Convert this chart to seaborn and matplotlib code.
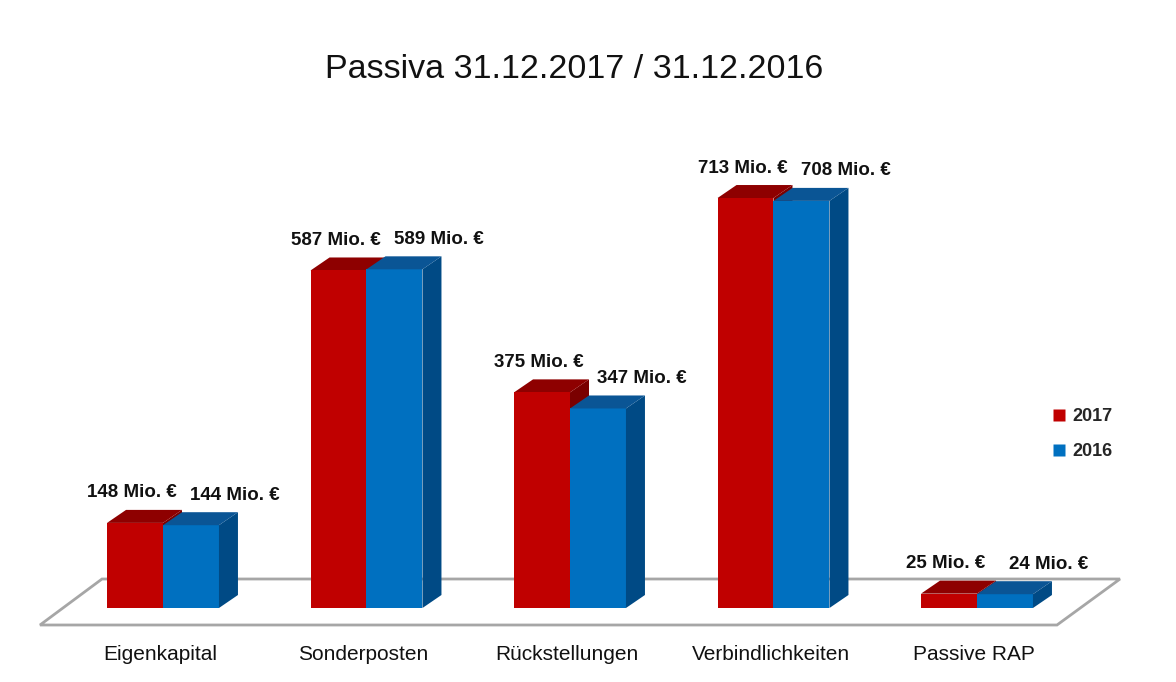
import matplotlib
matplotlib.use("Agg")
import matplotlib.pyplot as plt
from matplotlib.patches import Polygon
from matplotlib.lines import Line2D
from matplotlib import font_manager
import seaborn as sns
import pandas as pd

categories = ["Eigenkapital", "Sonderposten", "Rückstellungen", "Verbindlichkeiten", "Passive RAP"]
values_2017 = [148, 587, 375, 713, 25]
values_2016 = [144, 589, 347, 708, 24]
series = ["2017", "2016"]
title = "Passiva 31.12.2017 / 31.12.2016"

colors = {"2017": "#C00000", "2016": "#0070C0"}
top_colors = {"2017": "#8E0000", "2016": "#0A5595"}
side_colors = {"2017": "#7A0000", "2016": "#004A85"}

names = {f.name for f in font_manager.fontManager.ttflist}
narrow = "Liberation Sans Narrow" if "Liberation Sans Narrow" in names else "Liberation Sans"

sns.set_theme(style="white")
plt.rcParams["font.family"] = ["Liberation Sans", "DejaVu Sans"]

df = pd.DataFrame({
    "Kategorie": categories * 2,
    "Jahr": ["2017"] * len(categories) + ["2016"] * len(categories),
    "Wert": values_2017 + values_2016,
})

W, H = 1176, 682
fig = plt.figure(figsize=(W / 100, H / 100), dpi=100)
ax = fig.add_axes([0, 0, 1, 1])

sns.barplot(data=df, x="Kategorie", y="Wert", hue="Jahr", hue_order=series,
            palette=colors, width=0.55, gap=0, saturation=1, ax=ax,
            legend=False, edgecolor="none", linewidth=0)

# axis geometry: pixel mapping
x0_px, step_px = 163, 203.5
base_px, scale = 608, 0.575
ax.set_xlim(-x0_px / step_px, (W - x0_px) / step_px)
ax.set_ylim(-(H - base_px) / scale, base_px / scale)
ax.axis("off")

def px_x(p):
    return (p - x0_px) / step_px

def px_y(p):
    return (base_px - p) / scale

dx = 19 / step_px
dy = 13 / scale

# floor
floor = Polygon([(px_x(40), px_y(625)), (px_x(1057), px_y(625)),
                 (px_x(1120), px_y(579)), (px_x(102), px_y(579))],
                closed=True, facecolor="white", edgecolor="#A6A6A6", linewidth=2, zorder=1)
ax.add_patch(floor)

n = len(categories)
patches = ax.patches[:]
bars = [p for p in patches if p is not floor]
for k, s in enumerate(series):
    for i in range(n):
        b = bars[k * n + i]
        x0 = b.get_x(); x1 = x0 + b.get_width(); h = b.get_height()
        zf = 2.2 if s == "2017" else 3.0
        b.set_zorder(zf)
        top = Polygon([(x0, h), (x1, h), (x1 + dx, h + dy), (x0 + dx, h + dy)],
                      closed=True, facecolor=top_colors[s], edgecolor="none", zorder=zf - 0.1 if s == "2017" else zf + 0.1)
        side = Polygon([(x1, 0), (x1, h), (x1 + dx, h + dy), (x1 + dx, dy)],
                       closed=True, facecolor=side_colors[s], edgecolor="none", zorder=zf - 0.2 if s == "2017" else zf + 0.1)
        ax.add_patch(side)
        ax.add_patch(top)
        if s == "2017":
            lx = (x0 + x1) / 2 - 3 / step_px
        else:
            lx = (x0 + x1) / 2 + 44 / step_px
        ax.text(lx, h + 30 / scale, f"{int(h)} Mio. €", ha="center", va="center",
                fontsize=13.5, fontweight="bold", family=[narrow, "DejaVu Sans"],
                color="#111111", zorder=5)

# category labels
for i, c in enumerate(categories):
    ax.text(i - 3 / step_px, px_y(655), c, ha="center", va="center", fontsize=15, color="#111111")

ax.text(px_x(574), px_y(70), title, ha="center", va="center", fontsize=24.5, color="#111111")

handles = [Line2D([], [], marker="s", linestyle="none", markersize=8,
                  markerfacecolor=colors[s], markeredgecolor="none") for s in series]
leg = ax.legend(handles, series, loc="center left", bbox_to_anchor=(1036 / W, 1 - 434 / H),
                frameon=False, handlelength=0.8, handletextpad=0.3, labelspacing=1.0,
                prop={"weight": "bold", "size": 13, "family": "Liberation Sans"})

fig.savefig("out.png", dpi=100)
